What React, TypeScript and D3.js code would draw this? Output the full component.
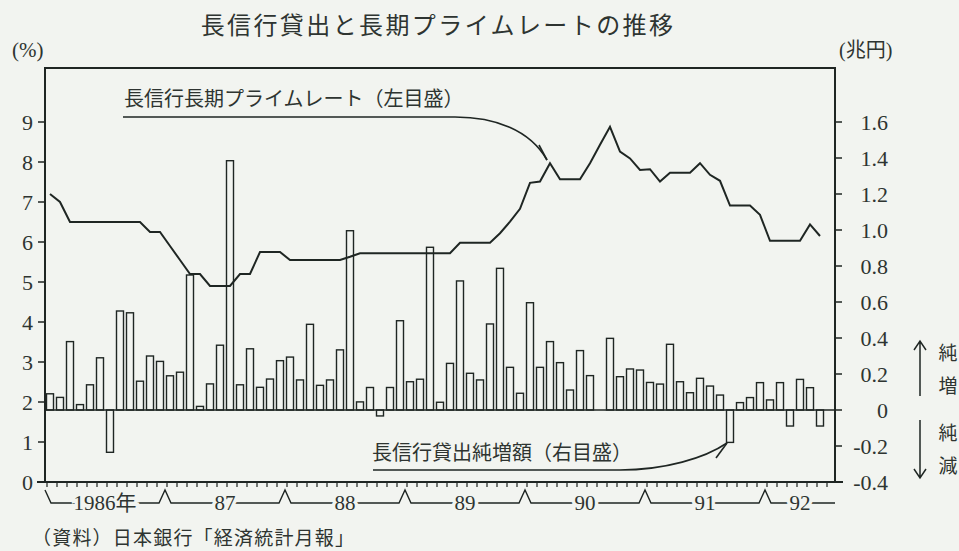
import React from "react";
import * as d3 from "d3";

// ---- data ----
const years = ["1986年", "87", "88", "89", "90", "91", "92"];
const monthsShownInLastYear = 7;

// 長信行貸出純増額 (兆円), monthly from 1986/1
const loanNetIncrease: (number | null)[] = [
  0.09, 0.07, 0.38, 0.03, 0.14, 0.29, -0.235, 0.55, 0.54, 0.16, 0.3, 0.27,
  0.19, 0.21, 0.75, 0.02, 0.145, 0.36, 1.385, 0.14, 0.34, 0.126, 0.172, 0.274,
  0.294, 0.167, 0.476, 0.137, 0.167, 0.334, 0.996, 0.045, 0.125, -0.033, 0.125, 0.496,
  0.157, 0.171, 0.904, 0.043, 0.259, 0.717, 0.204, 0.167, 0.478, 0.787, 0.237, 0.093,
  0.596, 0.237, 0.38, 0.263, 0.111, 0.33, 0.191, 0, 0.398, 0.185, 0.228, 0.222,
  0.153, 0.144, 0.365, 0.157, 0.096, 0.176, 0.133, 0.083, -0.18, 0.041, 0.069, 0.152,
  0.056, 0.152, -0.089, 0.17, 0.124, -0.089, null,
];

// 長信行長期プライムレート (%)
const primeRate: (number | null)[] = [
  7.2, 7.0, 6.5, 6.5, 6.5, 6.5, 6.5, 6.5, 6.5, 6.5, 6.25, 6.25,
  5.9, 5.55, 5.2, 5.2, 4.9, 4.9, 4.9, 5.2, 5.2, 5.75, 5.75, 5.75,
  5.55, 5.55, 5.55, 5.55, 5.55, 5.55, 5.63, 5.72, 5.72, 5.72, 5.72, 5.72,
  5.72, 5.72, 5.72, 5.72, 5.72, 5.98, 5.98, 5.98, 5.98, 6.22, 6.51, 6.83,
  7.48, 7.51, 7.97, 7.57, 7.57, 7.57, 7.97, 8.43, 8.88, 8.26, 8.09, 7.8,
  7.82, 7.51, 7.73, 7.73, 7.73, 7.97, 7.68, 7.53, 6.91, 6.91, 6.91, 6.68,
  6.03, 6.03, 6.03, 6.03, 6.44, 6.15, null,
];

const leftTicks = [0, 1, 2, 3, 4, 5, 6, 7, 8, 9];
const rightTicks = [-0.4, -0.2, 0, 0.2, 0.4, 0.6, 0.8, 1.0, 1.2, 1.4, 1.6];

const title = "長信行貸出と長期プライムレートの推移";
const lineLabel = "長信行長期プライムレート（左目盛）";
const barLabel = "長信行貸出純増額（右目盛）";
const source = "（資料）日本銀行「経済統計月報」";

// ---- layout ----
const W = 959;
const H = 551;
const BG = "#f2f4f0";
const INK = "#1f2623";
const TXT = "#2e3431";
const frame = { left: 45, right: 835, top: 68, bottom: 482 };
const SERIF = "'Liberation Serif', 'Noto Sans CJK JP', serif";
const CJK = "'Noto Sans CJK JP', sans-serif";

export default function App() {
  const months = years.flatMap((y, yi) =>
    d3.range(yi === years.length - 1 ? monthsShownInLastYear : 12).map((m) => `${y}-${m + 1}`)
  );
  const x = d3
    .scaleBand<string>()
    .domain(months)
    .range([frame.left, frame.right])
    .paddingInner(0.3)
    .paddingOuter(0.15);
  const step = x.step();
  const bw = x.bandwidth();
  const yL = d3.scaleLinear().domain([0, 9]).range([482, 122]);
  const yR = d3.scaleLinear().domain([-0.4, 1.6]).range([482, 122]);

  const line = d3
    .line<number | null>()
    .defined((d) => d != null)
    .x((_, i) => (x(months[i]) as number) + bw / 2)
    .y((d) => yL(d as number));

  const fmtR = (v: number) => (v === 0 ? "0" : d3.format(".1f")(v).replace("−", "-"));

  // year row
  const rowY = 503;
  const peakY = 490;
  const bounds = years.map((_, yi) => frame.left + yi * 12 * step);
  const yearEnds = years.map((_, yi) =>
    yi === years.length - 1 ? frame.right : frame.left + (yi + 1) * 12 * step
  );
  let rowPath = `M${frame.left},${peakY}L${frame.left + 6},${rowY}`;
  bounds.slice(1).forEach((b) => {
    rowPath += `L${b - 6},${rowY}L${b},${peakY}L${b + 6},${rowY}`;
  });
  rowPath += `L${frame.right},${rowY}`;

  return (
    <svg
      width={W}
      height={H}
      viewBox={`0 0 ${W} ${H}`}
      style={{ position: "absolute", left: 0, top: 0, background: BG }}
    >
      <rect x={0} y={0} width={W} height={H} fill={BG} />

      {/* title */}
      <text x={438} y={34} textAnchor="middle" fontFamily={CJK} fontSize={24} letterSpacing={2.4} fill={TXT}>
        {title}
      </text>
      <text x={12} y={57} fontFamily={SERIF} fontSize={21} fill={TXT}>(%)</text>
      <text x={839} y={57} fontFamily={SERIF} fontSize={20} fill={TXT}>(兆円)</text>

      {/* bars */}
      {loanNetIncrease.map((v, i) =>
        v == null || v === 0 ? null : (
          <rect
            key={`b${i}`}
            x={x(months[i])}
            y={yR(Math.max(v, 0))}
            width={bw}
            height={Math.abs(yR(v) - yR(0))}
            fill={BG}
            stroke={INK}
            strokeWidth={1.4}
          />
        )
      )}

      {/* zero line (right axis) */}
      <line x1={frame.left} x2={frame.right} y1={yR(0)} y2={yR(0)} stroke={INK} strokeWidth={1.6} />

      {/* prime rate line */}
      <path d={line(primeRate) || ""} fill="none" stroke={INK} strokeWidth={2} strokeLinejoin="miter" />

      {/* frame */}
      <rect
        x={frame.left}
        y={frame.top}
        width={frame.right - frame.left}
        height={frame.bottom - frame.top}
        fill="none"
        stroke={INK}
        strokeWidth={2}
      />
      <line x1={37} x2={843} y1={frame.bottom} y2={frame.bottom} stroke={INK} strokeWidth={2} />

      {/* left axis */}
      {leftTicks.map((t) => (
        <g key={`l${t}`}>
          <line x1={38} x2={frame.left} y1={yL(t)} y2={yL(t)} stroke={INK} strokeWidth={1.5} />
          <text x={33} y={yL(t)} dy="0.35em" textAnchor="end" fontFamily={SERIF} fontSize={22} fill={TXT}>
            {t}
          </text>
        </g>
      ))}

      {/* right axis */}
      {rightTicks.map((t) => (
        <g key={`r${t}`}>
          <line x1={frame.right} x2={842} y1={yR(t)} y2={yR(t)} stroke={INK} strokeWidth={1.5} />
          <text x={888} y={yR(t)} dy="0.35em" textAnchor="end" fontFamily={SERIF} fontSize={22} fill={TXT}>
            {fmtR(t)}
          </text>
        </g>
      ))}

      {/* month ticks */}
      {months.map((m) => (
        <line
          key={`t${m}`}
          x1={(x(m) as number) + 0.5}
          x2={(x(m) as number) + 0.5}
          y1={frame.bottom}
          y2={frame.bottom + 5}
          stroke={INK}
          strokeWidth={1.2}
        />
      ))}

      {/* year row */}
      <path d={rowPath} fill="none" stroke={INK} strokeWidth={1.4} />
      {years.map((y, yi) => (
        <text
          key={`y${y}`}
          x={(bounds[yi] + yearEnds[yi]) / 2}
          y={510}
          textAnchor="middle"
          fontFamily={SERIF}
          fontSize={21}
          fill={TXT}
          stroke={BG}
          strokeWidth={7}
          paintOrder="stroke"
        >
          {y}
        </text>
      ))}

      {/* annotation: prime rate */}
      <text x={124} y={106} fontFamily={CJK} fontSize={20} fill={TXT}>{lineLabel}</text>
      <path d="M123,117H455C495,117,530,130,547,160" fill="none" stroke={INK} strokeWidth={1.6} />
      <path d="M539,145L547,160" fill="none" stroke={INK} strokeWidth={1.6} />

      {/* annotation: loans */}
      <text x={372} y={460} fontFamily={CJK} fontSize={20} fill={TXT}>{barLabel}</text>
      <path d="M373,470H620C665,470,705,458,727,443" fill="none" stroke={INK} strokeWidth={1.6} />
      <path d="M716,458L727,443" fill="none" stroke={INK} strokeWidth={1.6} />

      {/* right side arrows */}
      <path d="M920,342V396M914,350L920,341L926,350" fill="none" stroke={INK} strokeWidth={1.5} />
      <text x={948} y={360} textAnchor="middle" fontFamily={CJK} fontSize={19} fill={TXT}>純</text>
      <text x={948} y={393} textAnchor="middle" fontFamily={CJK} fontSize={19} fill={TXT}>増</text>
      <path d="M920,420V478M914,469L920,478L926,469" fill="none" stroke={INK} strokeWidth={1.5} />
      <text x={948} y={440} textAnchor="middle" fontFamily={CJK} fontSize={19} fill={TXT}>純</text>
      <text x={948} y={473} textAnchor="middle" fontFamily={CJK} fontSize={19} fill={TXT}>減</text>

      {/* source */}
      <text x={32} y={545} fontFamily={CJK} fontSize={19} letterSpacing={1.2} fill={TXT}>{source}</text>
    </svg>
  );
}
